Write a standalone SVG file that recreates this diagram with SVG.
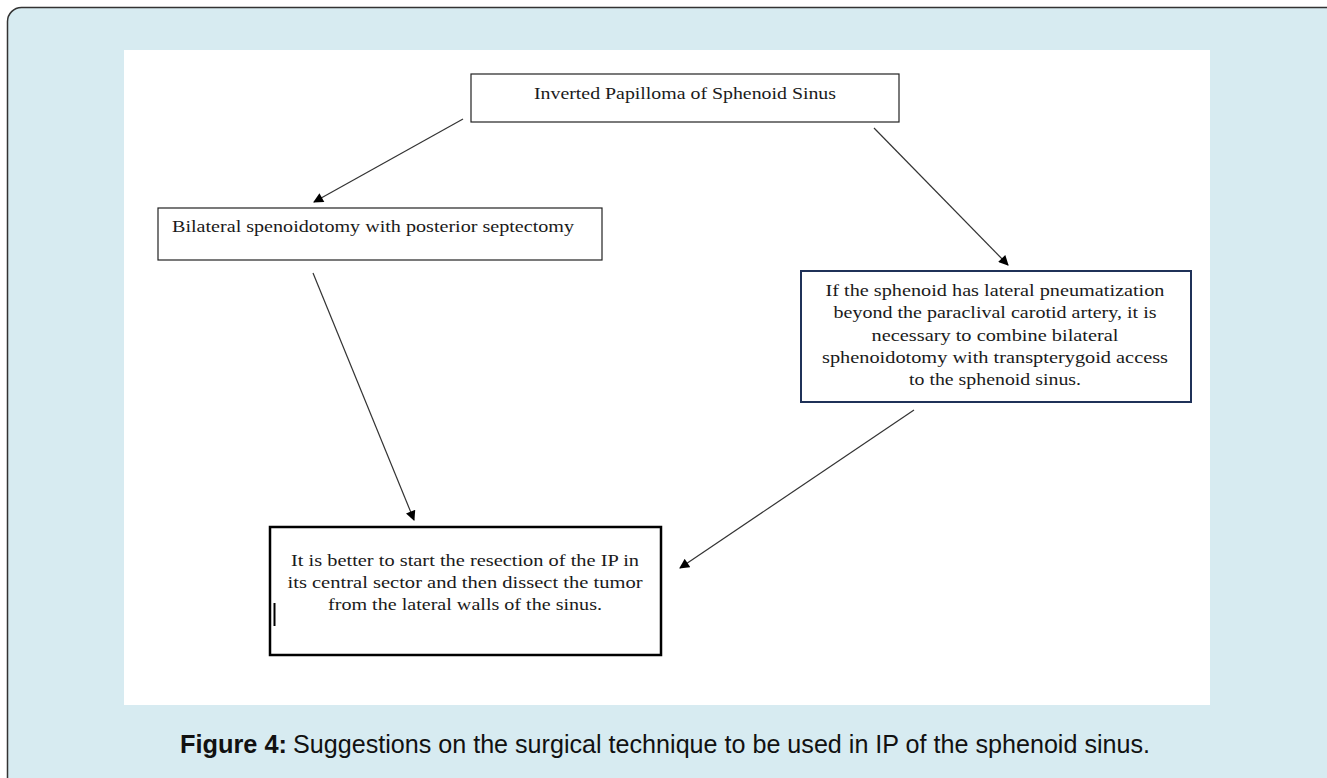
<svg xmlns="http://www.w3.org/2000/svg" width="1327" height="778" viewBox="0 0 1327 778">
<style>
.box{fill:#fff;stroke:#222;stroke-width:1.2}
.t{font-family:"Liberation Serif","DejaVu Serif",serif;font-size:17px;fill:#1a1a1a}
.c{text-anchor:middle}
.conn line{stroke:#333;stroke-width:1.2;marker-end:url(#ah)}
.cap{font-family:"Liberation Sans","DejaVu Sans",sans-serif;font-size:25px;fill:#111}
</style>
<defs>
<marker id="ah" viewBox="0 0 10 10" refX="9" refY="5" markerWidth="11" markerHeight="10" markerUnits="userSpaceOnUse" orient="auto">
<path d="M0,0 L10,5 L0,10 z" fill="#000"/>
</marker>
</defs>
<rect x="7.5" y="7.5" width="1340" height="800" rx="14" fill="#d7ebf1" stroke="#333" stroke-width="1.5"/>
<rect x="124" y="50" width="1086" height="655" fill="#fff"/>

<g id="node-top">
<rect class="box" x="471" y="74" width="428" height="48"/>
<text class="t c" x="685" y="99" textLength="302" lengthAdjust="spacingAndGlyphs">Inverted Papilloma of Sphenoid Sinus</text>
</g>
<g id="node-left">
<rect class="box" x="158" y="208" width="444" height="52"/>
<text class="t" x="172" y="232" textLength="402" lengthAdjust="spacingAndGlyphs">Bilateral spenoidotomy with posterior septectomy</text>
</g>
<g id="node-right">
<rect x="801" y="271" width="390" height="131" fill="#fff" stroke="#1f3158" stroke-width="2"/>
<text class="t c" x="995" y="296" textLength="339" lengthAdjust="spacingAndGlyphs">If the sphenoid has lateral pneumatization</text>
<text class="t c" x="995" y="318" textLength="323" lengthAdjust="spacingAndGlyphs">beyond the paraclival carotid artery, it is</text>
<text class="t c" x="995" y="341" textLength="247" lengthAdjust="spacingAndGlyphs">necessary to combine bilateral</text>
<text class="t c" x="995" y="363" textLength="346" lengthAdjust="spacingAndGlyphs">sphenoidotomy with transpterygoid access</text>
<text class="t c" x="995" y="385" textLength="172" lengthAdjust="spacingAndGlyphs">to the sphenoid sinus.</text>
</g>
<g id="node-bottom">
<rect x="270" y="527" width="391" height="128" fill="#fff" stroke="#000" stroke-width="2.5"/>
<text class="t c" x="465" y="566" textLength="348" lengthAdjust="spacingAndGlyphs">It is better to start the resection of the IP in</text>
<text class="t c" x="465" y="588" textLength="355" lengthAdjust="spacingAndGlyphs">its central sector and then dissect the tumor</text>
<text class="t c" x="465" y="610" textLength="274" lengthAdjust="spacingAndGlyphs">from the lateral walls of the sinus.</text>
<line x1="274.5" y1="603" x2="274.5" y2="626" stroke="#000" stroke-width="2"/>
</g>

<g id="connectors" class="conn">
<line x1="463" y1="119" x2="314" y2="202"/>
<line x1="874" y1="128" x2="1008" y2="265"/>
<line x1="313" y1="273" x2="414" y2="520"/>
<line x1="914" y1="410" x2="680" y2="568"/>
</g>

<g id="caption">
<text class="cap" x="180" y="753" font-weight="bold" textLength="107" lengthAdjust="spacingAndGlyphs">Figure 4:</text>
<text class="cap" x="293" y="753" textLength="857" lengthAdjust="spacingAndGlyphs">Suggestions on the surgical technique to be used in IP of the sphenoid sinus.</text>
</g>
</svg>
